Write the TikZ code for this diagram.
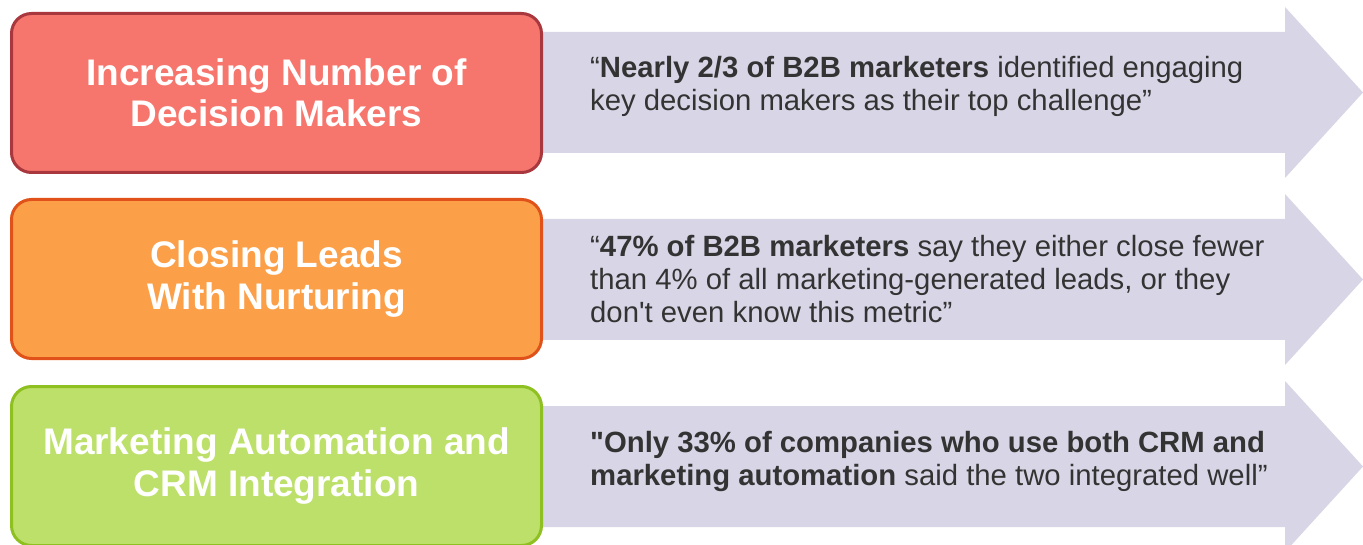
\documentclass[tikz,border=0pt]{standalone}
\usepackage{fontspec}
\setmainfont{Liberation Sans}
\definecolor{redfill}{RGB}{246,118,109}
\definecolor{redline}{RGB}{168,56,62}
\definecolor{orangefill}{RGB}{251,160,73}
\definecolor{orangeline}{RGB}{224,82,26}
\definecolor{greenfill}{RGB}{189,224,106}
\definecolor{greenline}{RGB}{141,192,32}
\definecolor{arrowfill}{RGB}{216,214,230}
\definecolor{quotetext}{RGB}{51,51,51}
\tikzset{
  topicbox/.style={rounded corners=20pt, line width=3pt, inner sep=0pt,
    minimum width=530pt, minimum height=159pt, align=center, text=white,
    font=\bfseries\fontsize{37}{41.5}\selectfont},
  quotebox/.style={anchor=north west, inner sep=0pt, align=left, text=quotetext,
    font=\fontsize{29.3}{32.8}\selectfont},
  bandarrow/.style={fill=arrowfill}
}
\begin{document}
\begin{tikzpicture}[x=1pt,y=-1pt]
\useasboundingbox (0,0) rectangle (1363,545);
\fill[white] (0,0) rectangle (1363,545);
\foreach \c in {92.5,279.5,466.5}{
  \fill[bandarrow] (500,{\c-60.5}) -- (1285,{\c-60.5}) -- (1285,{\c-85.5}) -- (1363,\c)
    -- (1285,{\c+85.5}) -- (1285,{\c+60.5}) -- (500,{\c+60.5}) -- cycle;
}
\node[topicbox, fill=redfill, draw=redline] (b1) at (276.5,93) {Increasing Number of\\Decision Makers};
\node[topicbox, fill=orangefill, draw=orangeline] (b2) at (276.5,279) {Closing Leads\\With Nurturing};
\node[topicbox, fill=greenfill, draw=greenline] (b3) at (276.5,466) {Marketing Automation and\\CRM Integration};
\node[quotebox] (q1) at (590,56.5) {“\textbf{Nearly 2/3 of B2B marketers} identified engaging\\key decision makers as their top challenge”};
\node[quotebox] (q2) at (590,235) {“\textbf{47\% of B2B marketers} say they either close fewer\\than 4\% of all marketing-generated leads, or they\\don\textquotesingle t even know this metric”};
\node[quotebox] (q3) at (590,431) {\textbf{\textquotedbl Only 33\% of companies who use both CRM and}\\\textbf{marketing automation} said the two integrated well”};
\end{tikzpicture}
\end{document}
